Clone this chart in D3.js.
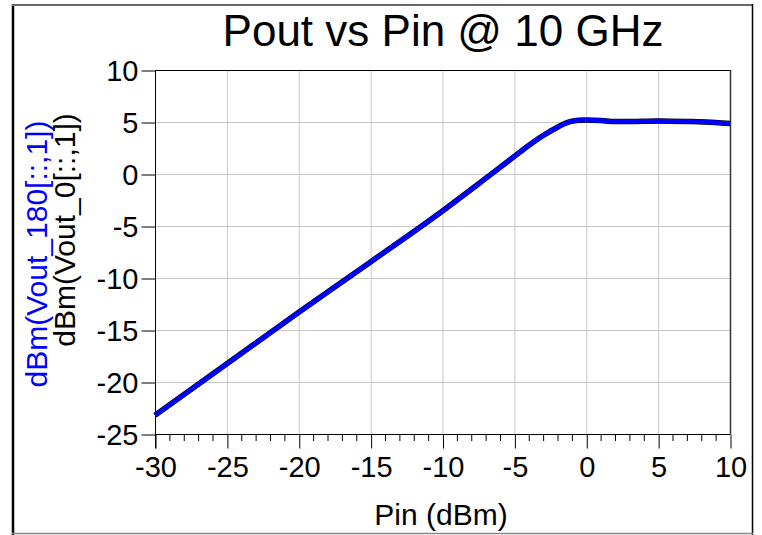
<!DOCTYPE html>
<html>
<head>
<meta charset="utf-8">
<script src="https://cdn.jsdelivr.net/npm/d3@7"></script>
<style>
  body { margin: 0; background: #fff; }
  text { font-family: "Liberation Sans", Arial, sans-serif; }
</style>
</head>
<body>
<div class="graph"></div>
<script>
// data
var pin = [-30, -25, -20, -15, -10, -7.5, -5, -4, -3, -2, -1.5, -1, -0.5, 0, 1, 2, 3, 5, 7, 9, 10];
var vout180 = [-23.2, -18.25, -13.3, -8.45, -3.55, -0.95, 1.7, 2.75, 3.7, 4.5, 4.85, 5.08, 5.17, 5.2, 5.15, 5.05, 5.05, 5.1, 5.05, 4.95, 4.85];
var vout0 = [-23.2, -18.25, -13.3, -8.45, -3.55, -0.95, 1.7, 2.75, 3.7, 4.5, 4.85, 5.08, 5.17, 5.2, 5.15, 5.05, 5.05, 5.1, 5.05, 4.95, 4.85];
var xTicks = [-30, -25, -20, -15, -10, -5, 0, 5, 10];
var yTicks = [10, 5, 0, -5, -10, -15, -20, -25];

var W = 762, H = 535;
var pLeft = 155, pRight = 730, pTop = 70, pBottom = 434;

var svg = d3.select(".graph").append("svg")
    .attr("width", W)
    .attr("height", H);

var x = d3.scaleLinear().domain([-30, 10]).range([pLeft, pRight]);
var y = d3.scaleLinear().domain([-25, 10]).range([pBottom, pTop]);

// outer frame
svg.append("line").attr("x1", 13).attr("x2", 13).attr("y1", 4).attr("y2", 535)
  .attr("stroke", "#000").attr("stroke-width", 2.5);
svg.append("line").attr("x1", 12).attr("x2", 753).attr("y1", 5).attr("y2", 5)
  .attr("stroke", "#666").attr("stroke-width", 2);
svg.append("line").attr("x1", 752.5).attr("x2", 752.5).attr("y1", 4).attr("y2", 535)
  .attr("stroke", "#000").attr("stroke-width", 1.5);
svg.append("line").attr("x1", 12).attr("x2", 753).attr("y1", 533.5).attr("y2", 533.5)
  .attr("stroke", "#888").attr("stroke-width", 1.5);

// grid
svg.append("g").selectAll("line").data(xTicks.slice(1, -1)).enter()
  .append("line")
    .attr("x1", d => x(d) + 0.5).attr("x2", d => x(d) + 0.5)
    .attr("y1", pTop).attr("y2", pBottom)
    .attr("stroke", "#c8c8c8");
svg.append("g").selectAll("line").data(yTicks.slice(1, -1)).enter()
  .append("line")
    .attr("x1", pLeft).attr("x2", pRight)
    .attr("y1", d => y(d) + 0.5).attr("y2", d => y(d) + 0.5)
    .attr("stroke", "#c8c8c8");

// plot box
svg.append("line").attr("x1", pLeft).attr("x2", pRight).attr("y1", pTop + 0.5).attr("y2", pTop + 0.5)
  .attr("stroke", "#000");
svg.append("line").attr("x1", pRight + 0.5).attr("x2", pRight + 0.5).attr("y1", pTop).attr("y2", pBottom)
  .attr("stroke", "#333").attr("stroke-width", 1.5);

// axes
var fmt = d => String(d);
var yAxis = d3.axisLeft(y).tickValues(yTicks).tickSize(14).tickPadding(3).tickFormat(fmt);
var gy = svg.append("g").attr("transform", "translate(" + (pLeft + 0.5) + ",0.5)").call(yAxis);
gy.select(".domain").remove();
gy.append("line").attr("x1", 0).attr("x2", 0).attr("y1", pTop).attr("y2", pBottom + 14).attr("stroke", "#000");

var minor = d3.range(-30, 11, 1).filter(d => d % 5 != 0);
svg.append("g").selectAll("line").data(minor).enter()
  .append("line")
    .attr("x1", d => x(d) + 0.5).attr("x2", d => x(d) + 0.5)
    .attr("y1", pBottom).attr("y2", pBottom + 7)
    .attr("stroke", "#000");

var xAxis = d3.axisBottom(x).tickValues(xTicks).tickSize(14).tickPadding(8).tickFormat(fmt);
var gx = svg.append("g").attr("transform", "translate(0.5," + (pBottom + 0.5) + ")").call(xAxis);
gx.select(".domain").attr("d", "M" + pLeft + ",0H" + pRight);

svg.selectAll(".tick line").attr("stroke", "#000");
svg.selectAll(".tick text")
  .style("font-family", "'Liberation Sans', Arial, sans-serif")
  .style("font-size", "29px")
  .attr("fill", "#000");
gy.selectAll(".tick text").attr("dy", "0.36em");

// traces
var line = d3.line().x((d, i) => x(pin[i])).y(d => y(d)).curve(d3.curveMonotoneX);
svg.append("path").datum(vout0)
  .attr("d", line).attr("fill", "none")
  .attr("stroke", "#000").attr("stroke-width", 5.5);
svg.append("path").datum(vout180)
  .attr("d", line).attr("fill", "none")
  .attr("stroke", "#0000ff").attr("stroke-width", 4.5);

// title and labels
svg.append("text")
  .attr("x", 443).attr("y", 46)
  .attr("text-anchor", "middle")
  .style("font-size", "44px")
  .text("Pout vs Pin @ 10 GHz");

svg.append("text")
  .attr("x", 441).attr("y", 525)
  .attr("text-anchor", "middle")
  .style("font-size", "30px")
  .text("Pin (dBm)");

svg.append("text")
  .attr("transform", "translate(47,254) rotate(-90)")
  .attr("text-anchor", "middle")
  .attr("fill", "#0000ff")
  .style("font-size", "30px")
  .text("dBm(Vout_180[::,1])");
svg.append("text")
  .attr("transform", "translate(75,230) rotate(-90)")
  .attr("text-anchor", "middle")
  .attr("fill", "#000")
  .style("font-size", "30px")
  .text("dBm(Vout_0[::,1])");
</script>
</body>
</html>
